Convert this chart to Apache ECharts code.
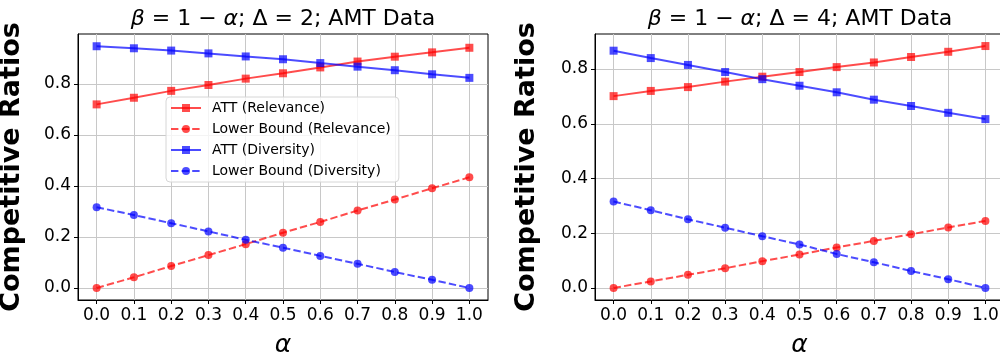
<!DOCTYPE html>
<html>
<head>
<meta charset="utf-8">
<script src="https://cdn.jsdelivr.net/npm/echarts@6/dist/echarts.min.js"></script>
<style>
  html, body { margin: 0; padding: 0; background: #fff; }
  #chart { width: 1000px; height: 356px; }
</style>
</head>
<body>
<div id="chart"></div>
<script>
// alpha values on the x axis
var alphas = [0.0, 0.1, 0.2, 0.3, 0.4, 0.5, 0.6, 0.7, 0.8, 0.9, 1.0];
var xTicks = [0.0, 0.1, 0.2, 0.3, 0.4, 0.5, 0.6, 0.7, 0.8, 0.9, 1.0];
var yTicks = [0.0, 0.2, 0.4, 0.6, 0.8];

// Delta = 2
var attRel2 = [0.720, 0.746, 0.773, 0.796, 0.821, 0.842, 0.865, 0.888, 0.907, 0.924, 0.942];
var lbRel2 = [0.000, 0.042, 0.086, 0.129, 0.172, 0.217, 0.259, 0.304, 0.347, 0.391, 0.434];
var attDiv2 = [0.948, 0.940, 0.931, 0.920, 0.908, 0.897, 0.882, 0.868, 0.854, 0.838, 0.824];
var lbDiv2 = [0.317, 0.286, 0.254, 0.222, 0.189, 0.158, 0.126, 0.095, 0.063, 0.032, 0.000];

// Delta = 4
var attRel4 = [0.701, 0.720, 0.734, 0.754, 0.772, 0.789, 0.807, 0.824, 0.844, 0.863, 0.884];
var lbRel4 = [0.000, 0.024, 0.048, 0.072, 0.098, 0.122, 0.148, 0.172, 0.196, 0.221, 0.245];
var attDiv4 = [0.867, 0.840, 0.815, 0.789, 0.763, 0.739, 0.715, 0.688, 0.665, 0.640, 0.617];
var lbDiv4 = [0.316, 0.284, 0.251, 0.220, 0.189, 0.159, 0.124, 0.094, 0.062, 0.032, 0.000];

var names = ['ATT (Relevance)', 'Lower Bound (Relevance)', 'ATT (Diversity)', 'Lower Bound (Diversity)'];

var font = 'DejaVu Sans';
var red = 'rgba(255,0,0,0.7)';
var blue = 'rgba(0,0,255,0.7)';
var gridColor = '#c8c8c8';

function pairs(ys) {
  return alphas.map(function(a, i) { return [a, ys[i]]; });
}

function xAxisFor(idx) {
  return {
    type: 'value', gridIndex: idx, min: -0.05, max: 1.05,
    name: 'α', nameLocation: 'middle', nameGap: 33,
    nameTextStyle: { fontFamily: font, fontSize: 25, fontStyle: 'italic', color: '#000' },
    axisLine: { show: true, onZero: false, lineStyle: { color: '#000', width: 1 } },
    axisTick: { show: true, length: 4, customValues: xTicks, lineStyle: { color: '#000' } },
    axisLabel: { customValues: xTicks, margin: 7, color: '#000', fontFamily: font, fontSize: 17,
      formatter: function(v) { return v.toFixed(1); } },
    splitLine: { show: true, lineStyle: { color: gridColor, width: 1 } }
  };
}

function yAxisFor(idx, max, gap) {
  return {
    type: 'value', gridIndex: idx, min: idx === 0 ? -0.047 : -0.044, max: max,
    name: 'Competitive Ratios', nameLocation: 'middle', nameGap: gap, nameRotate: 90,
    nameTextStyle: { fontFamily: font, fontSize: 27, fontWeight: 'bold', color: '#000' },
    axisLine: { show: true, onZero: false, lineStyle: { color: '#000', width: 1 } },
    axisTick: { show: true, length: 4, customValues: yTicks, lineStyle: { color: '#000' } },
    axisLabel: { customValues: yTicks, margin: 7, color: '#000', fontFamily: font, fontSize: 17,
      formatter: function(v) { return v.toFixed(1); } },
    splitLine: { show: true, lineStyle: { color: gridColor, width: 1 } }
  };
}

function lineSeries(name, idx, ys, color, symbol, dashed) {
  return {
    name: name, type: 'line', xAxisIndex: idx, yAxisIndex: idx,
    data: pairs(ys), symbol: symbol, symbolSize: 8, showAllSymbol: true,
    clip: false,
    itemStyle: { color: color },
    lineStyle: { color: color, width: 2, type: dashed ? [7.4, 3.2] : 'solid' },
    emphasis: { disabled: true }
  };
}

function titleText(x, delta) {
  return {
    type: 'text', x: x, y: 19,
    style: {
      text: '{i|β} = 1 − {i|α}; Δ = ' + delta + '; AMT Data',
      rich: { i: { fontStyle: 'italic', fontFamily: font, fontSize: 22, fill: '#000' } },
      fontFamily: font, fontSize: 22, fill: '#000',
      align: 'center', verticalAlign: 'middle'
    }
  };
}

var chart = echarts.init(document.getElementById('chart'), null, { renderer: 'canvas' });
chart.setOption({
  animation: false,
  backgroundColor: '#fff',
  graphic: [titleText(283, 2), titleText(800, 4)],
  grid: [
    { left: 78, top: 34, width: 410, height: 266, outerBoundsMode: 'none', containLabel: false,
      show: true, borderColor: '#000', borderWidth: 1 },
    { left: 595, top: 34, width: 409, height: 266, outerBoundsMode: 'none', containLabel: false,
      show: true, borderColor: '#000', borderWidth: 1 }
  ],
  legend: {
    data: names, orient: 'vertical', left: 166, top: 97,
    itemWidth: 30, itemHeight: 10, itemGap: 7,
    padding: [4, 8, 4, 4],
    backgroundColor: 'rgba(255,255,255,0.8)', borderColor: '#d6d6d6', borderWidth: 1, borderRadius: 4,
    textStyle: { fontFamily: font, fontSize: 14, color: '#000', padding: [0, 0, 0, 6] },
    selectedMode: false
  },
  xAxis: [xAxisFor(0), xAxisFor(1)],
  yAxis: [yAxisFor(0, 0.996, 53), yAxisFor(1, 0.928, 55)],
  series: [
    lineSeries(names[0], 0, attRel2, red, 'rect', false),
    lineSeries(names[1], 0, lbRel2, red, 'circle', true),
    lineSeries(names[2], 0, attDiv2, blue, 'rect', false),
    lineSeries(names[3], 0, lbDiv2, blue, 'circle', true),
    lineSeries(names[0], 1, attRel4, red, 'rect', false),
    lineSeries(names[1], 1, lbRel4, red, 'circle', true),
    lineSeries(names[2], 1, attDiv4, blue, 'rect', false),
    lineSeries(names[3], 1, lbDiv4, blue, 'circle', true)
  ]
});
window.addEventListener('resize', function() { chart.resize(); });
</script>
</body>
</html>
